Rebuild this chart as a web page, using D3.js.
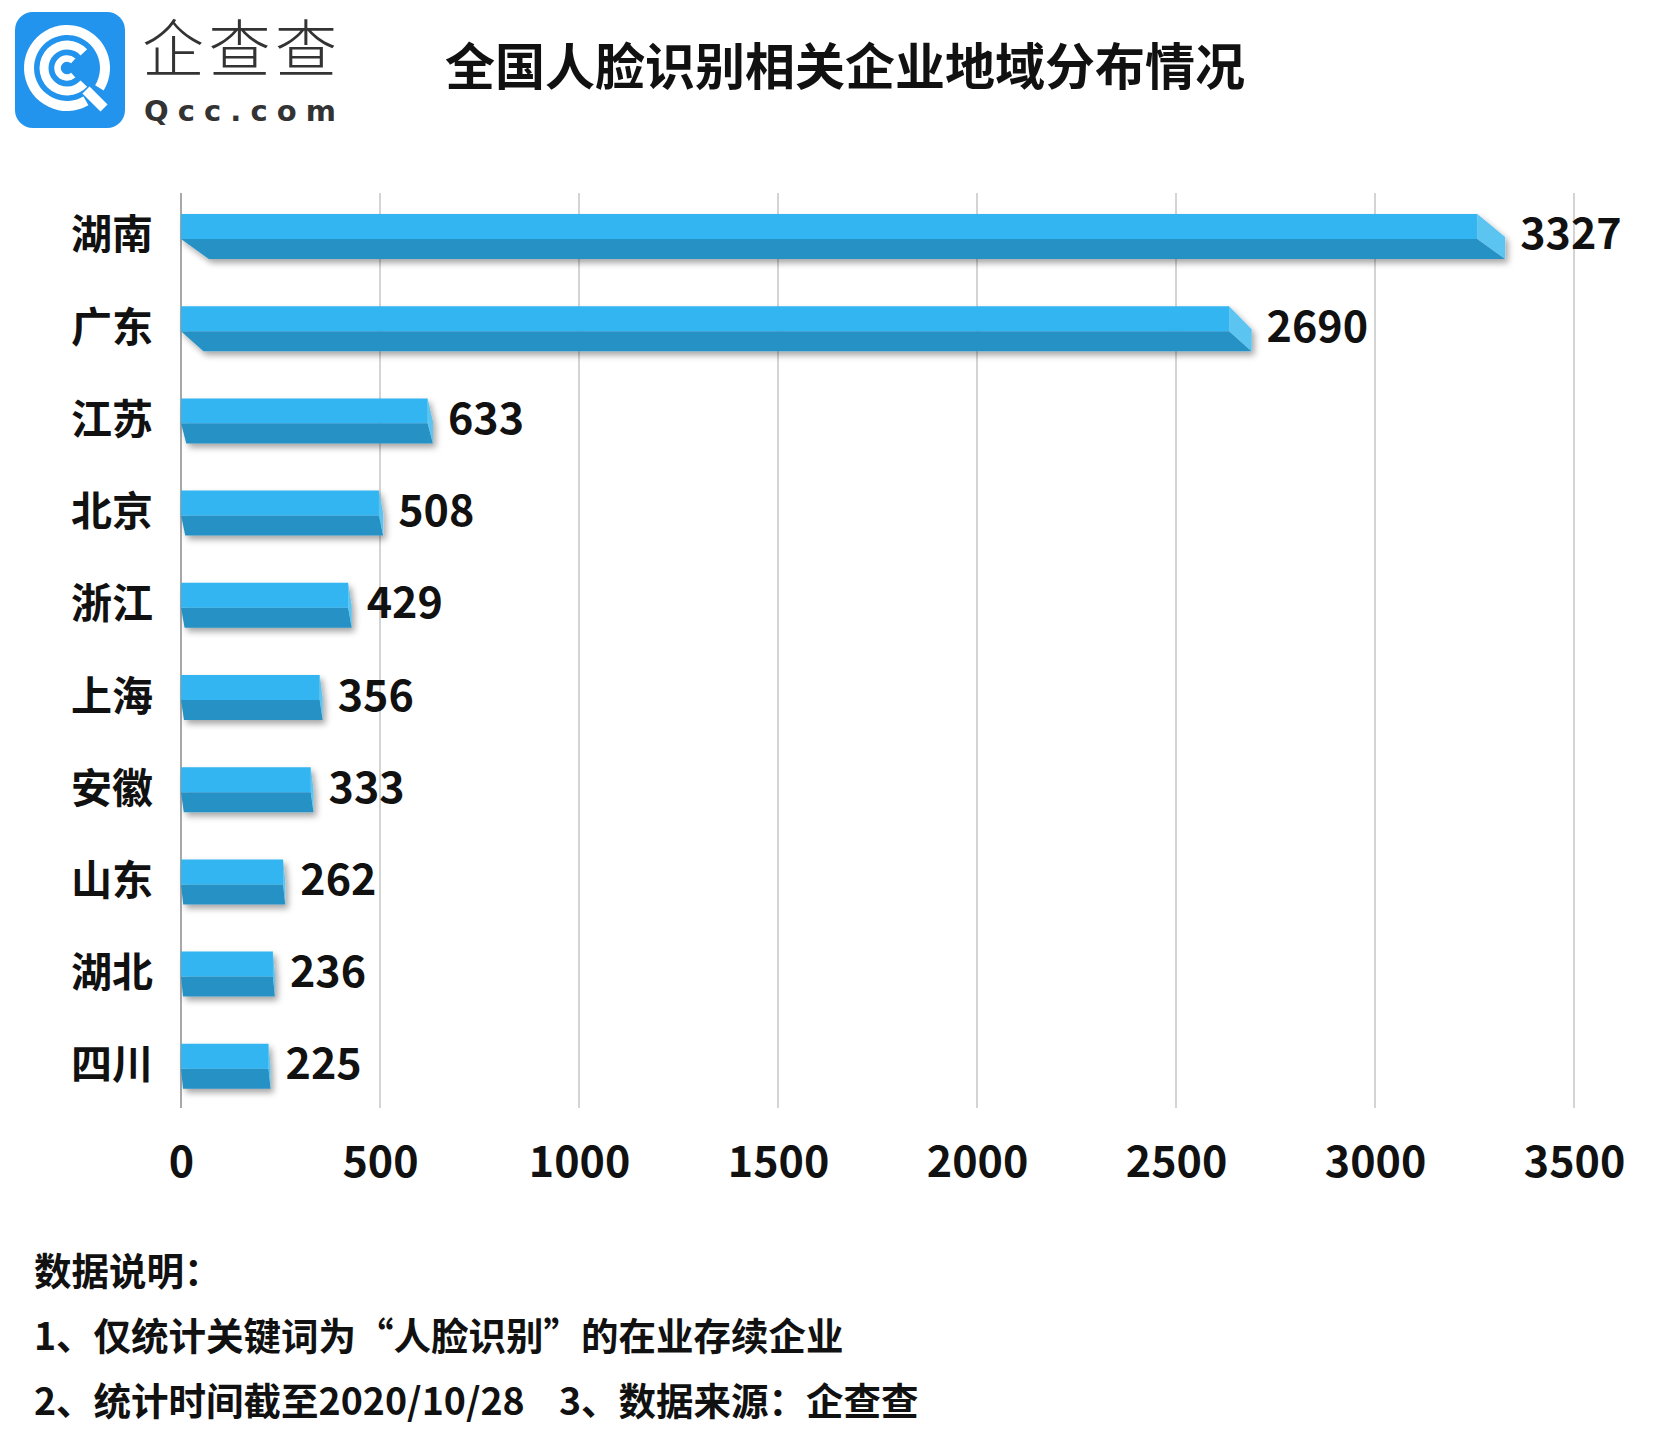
<!DOCTYPE html>
<html><head><meta charset="utf-8">
<script src="https://cdn.jsdelivr.net/npm/d3@7"></script>
<style>
html,body{margin:0;padding:0;background:#fff;}
svg{display:block;font-family:"Noto Sans CJK SC","Noto Sans",sans-serif;}
</style></head>
<body>
<svg id="chart" width="1680" height="1451"></svg>
<script>
const categories = ["湖南","广东","江苏","北京","浙江","上海","安徽","山东","湖北","四川"];
const values = [3327,2690,633,508,429,356,333,262,236,225];
const tickValues = [0,500,1000,1500,2000,2500,3000,3500];
const titleText = "全国人脸识别相关企业地域分布情况";
const noteLines = ["数据说明：", "1、仅统计关键词为“人脸识别”的在业存续企业", "2、统计时间截至2020/10/28", "3、数据来源：企查查"];

const svg = d3.select("#chart");
const defs = svg.append("defs");
const f = defs.append("filter").attr("id","sh").attr("x","-5%").attr("y","-30%").attr("width","115%").attr("height","190%");
f.append("feDropShadow").attr("dx",3).attr("dy",4).attr("stdDeviation",3).attr("flood-color","#000").attr("flood-opacity",0.35);

// Logo
const logo = svg.append("g");
logo.append("rect").attr("x",15).attr("y",12).attr("width",110).attr("height",116).attr("rx",18).attr("fill","#2394ee");
const cx = 67, cy = 68;
const arc = d3.arc();
const PI = Math.PI;
function ring(r, w, a0, a1){
  logo.append("path").attr("transform",`translate(${cx},${cy})`)
    .attr("d", arc({innerRadius:r-w/2, outerRadius:r+w/2, startAngle:a0, endAngle:a1, cornerRadius:0})).attr("fill","#fff");
}
ring(38, 10, 2.62, 2.12 + 2*PI);
ring(23, 9, PI/2 + 0.75, PI/2 - 0.75 + 2*PI);
ring(9.5, 6.5, PI/2 + 0.85, PI/2 - 0.85 + 2*PI);
logo.append("line").attr("x1",86).attr("y1",90).attr("x2",104).attr("y2",108).attr("stroke","#fff").attr("stroke-width",10);
logo.append("text").attr("x",142).attr("y",72).attr("font-size",62).attr("font-weight",300).attr("fill","#333")
  .attr("textLength",195).text("企查查");
logo.append("text").attr("x",144).attr("y",121).attr("font-size",29).attr("font-weight",700).attr("fill","#333")
  .attr("font-family","'DejaVu Sans',sans-serif").attr("textLength",192).attr("lengthAdjust","spacing").text("Qcc.com");

// Title
svg.append("text").attr("x",445).attr("y",63).attr("dominant-baseline","central")
  .attr("font-size",50).attr("font-weight",700).attr("fill","#111").text(titleText);

// Scales
const x = d3.scaleLinear().domain([0,3500]).range([181,1574]);
const y = d3.scaleBand().domain(categories).range([214, 214 + 9*92.2 + 45]).paddingInner(0.512).paddingOuter(0);

// Grid
const gridTop = 193, gridBottom = 1108;
svg.append("g").selectAll("line").data(tickValues).join("line")
  .attr("x1",d=>x(d)).attr("x2",d=>x(d)).attr("y1",gridTop).attr("y2",gridBottom)
  .attr("stroke",d=>d===0?"#a8a8a8":"#d4d4d4").attr("stroke-width",2);

// X axis labels via d3 axis
const xAxis = svg.append("g").attr("transform",`translate(0,${gridBottom})`)
  .call(d3.axisBottom(x).tickValues(tickValues).tickSize(0).tickPadding(0).tickFormat(d3.format("d")));
xAxis.select(".domain").remove();
xAxis.selectAll("text").attr("y",69).attr("dy",0).attr("font-size",43).attr("font-weight",700)
  .attr("fill","#111").attr("font-family","'Noto Sans CJK SC',sans-serif");

// Y axis labels
const yAxis = svg.append("g").attr("transform",`translate(153,0)`)
  .call(d3.axisLeft(y).tickSize(0).tickPadding(0));
yAxis.select(".domain").remove();
yAxis.selectAll("text").attr("x",0).attr("dy",0).attr("dominant-baseline","central")
  .attr("transform","translate(0,-5)")
  .attr("font-size",41).attr("font-weight",700).attr("fill","#111").attr("font-family","'Noto Sans CJK SC',sans-serif");

// Bars
const data = categories.map((c,i)=>({c, v: values[i]}));
const bars = svg.append("g").selectAll("g").data(data).join("g").attr("filter","url(#sh)");
bars.each(function(d){
  const g = d3.select(this);
  const x0 = x(0), xe = x(d.v);
  const y0 = y(d.c), h = y.bandwidth(), ym = y0 + h*0.555, y1 = y0 + h;
  const dd = Math.max(2, (xe - x0) * 0.021);
  const poly = pts => "M" + pts.map(p=>p.join(",")).join("L") + "Z";
  g.append("path").attr("d", poly([[x0,ym],[xe-dd,ym],[xe,y1],[x0+dd,y1]])).attr("fill","#2891c4");
  g.append("path").attr("d", poly([[x0,y0],[xe-dd,y0],[xe-dd,ym],[x0,ym]])).attr("fill","#30b5f0");
  g.append("path").attr("d", poly([[xe-dd,y0],[xe,y0+h*0.51],[xe,y1],[xe-dd,ym]])).attr("fill","#5cc4f1");
});

// Value labels
svg.append("g").selectAll("text").data(data).join("text")
  .attr("x",d=>x(d.v)+15).attr("y",d=>y(d.c)+y.bandwidth()/2 - 6).attr("dominant-baseline","central")
  .attr("font-size",43).attr("font-weight",700).attr("fill","#111").text(d=>d.v);

// Notes
const notes = svg.append("g").attr("font-size",37.5).attr("font-weight",700).attr("fill","#111");
notes.append("text").attr("x",34).attr("y",1268).attr("dominant-baseline","central").text(noteLines[0]);
notes.append("text").attr("x",34).attr("y",1333).attr("dominant-baseline","central").text(noteLines[1]);
notes.append("text").attr("x",34).attr("y",1398).attr("dominant-baseline","central").text(noteLines[2]);
notes.append("text").attr("x",559).attr("y",1398).attr("dominant-baseline","central").text(noteLines[3]);
</script>
</body></html>
